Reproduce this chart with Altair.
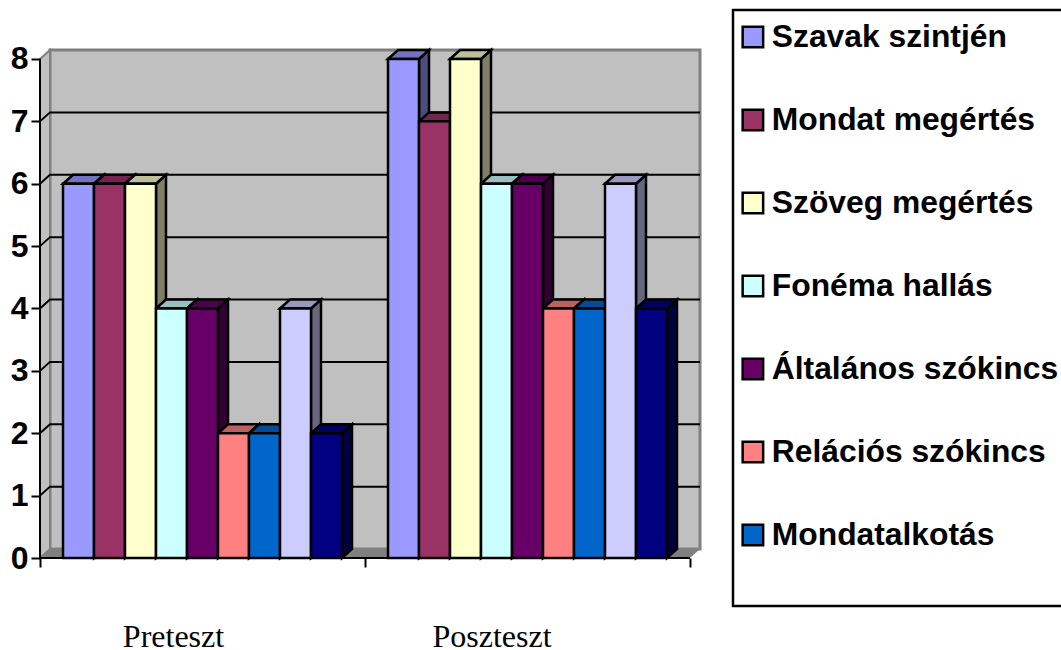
import altair as alt
import pandas as pd

# Survey results per test round
groups = ["Preteszt", "Poszteszt"]
series = ["Szavak szintjén", "Mondat megértés", "Szöveg megértés", "Fonéma hallás",
          "Általános szókincs", "Relációs szókincs", "Mondatalkotás", "Szövegalkotás", "Olvasás"]
pre_values = [6, 6, 6, 4, 4, 2, 2, 4, 2]
post_values = [8, 7, 8, 6, 6, 4, 4, 6, 4]
palette = ["#9999FF", "#993366", "#FFFFCC", "#CCFFFF", "#660066",
           "#FF8080", "#0066CC", "#CCCCFF", "#000080"]
legend_series = series[:7]
y_ticks = list(range(9))

# Pseudo-3D geometry, in x-scale units (px) and y-scale units (score)
GROUP_W = 325
GAP = 23
BAR_W = 31
DX = 10
DY = 9 / 62.4
X_MAX = 2 * GROUP_W + DX
Y_MAX = 8 + DY
PLOT_W, PLOT_H = X_MAX, 508

FONT = "Liberation Sans"
SERIF = "Liberation Serif"


def shade(hex_color, factor):
    r, g, b = (int(hex_color[i:i + 2], 16) for i in (1, 3, 5))
    return "#{:02X}{:02X}{:02X}".format(int(r * factor), int(g * factor), int(b * factor))


fronts, tops, sides = [], [], []
for g, (group, vals) in enumerate(zip(groups, [pre_values, post_values])):
    for i, (name, v, col) in enumerate(zip(series, vals, palette)):
        x0 = g * GROUP_W + GAP + i * BAR_W
        x1 = x0 + BAR_W
        key = f"{group}-{i}"
        fronts.append(dict(key=key, series=name, x0=x0, x1=x1, v=v))
        for x, hi, lo in [(x0, v, v), (x0 + DX, v + DY, v), (x1, v + DY, v), (x1 + DX, v + DY, v + DY)]:
            tops.append(dict(key=key, x=x, hi=hi, lo=lo, fill=shade(col, 0.75)))
        for x, hi, lo in [(x1, v, 0), (x1 + DX, v + DY, DY)]:
            sides.append(dict(key=key, x=x, hi=hi, lo=lo, fill=shade(col, 0.5)))

x_scale = alt.Scale(domain=[0, X_MAX], range=[0, PLOT_W], nice=False, zero=False)
y_scale = alt.Scale(domain=[0, Y_MAX], range=[PLOT_H, 0], nice=False, zero=False)
X = lambda f: alt.X(f, type="quantitative", scale=x_scale, title=None)
Y = lambda f: alt.Y(f, type="quantitative", scale=y_scale, title=None)

# The axes live on the back wall layer and are shared by every other layer
x_axis = alt.Axis(
    values=[0, GROUP_W, 2 * GROUP_W], labels=False, title=None, grid=False, domain=False,
    tickColor="black", tickWidth=2, tickSize=9, zindex=1)
y_axis = alt.Axis(
    values=y_ticks, format="d", title=None, grid=False, domain=False,
    tickColor="black", tickWidth=2, tickSize=9, labelPadding=3,
    labelFont=FONT, labelFontSize=32, labelFontWeight="bold", labelColor="black", zindex=1)

# Walls and floor
back_wall = alt.Chart(pd.DataFrame([dict(a=DX, b=X_MAX, lo=DY, hi=Y_MAX)])).mark_rect(
    fill="#C0C0C0", stroke="#808080", strokeWidth=3
).encode(
    x=alt.X("a", type="quantitative", scale=x_scale, title=None, axis=x_axis), x2="b",
    y=alt.Y("lo", type="quantitative", scale=y_scale, title=None, axis=y_axis), y2="hi")

side_wall = alt.Chart(pd.DataFrame([
    dict(x=0, hi=8, lo=0), dict(x=DX, hi=Y_MAX, lo=DY)
])).mark_area(fill="#C0C0C0", stroke="#808080", strokeWidth=2, opacity=1).encode(
    x=X("x"), y=Y("hi"), y2="lo")

floor = alt.Chart(pd.DataFrame([
    dict(x=0, hi=0, lo=0), dict(x=DX, hi=DY, lo=0),
    dict(x=2 * GROUP_W, hi=DY, lo=0), dict(x=X_MAX, hi=DY, lo=DY)
])).mark_area(fill="#808080", opacity=1).encode(x=X("x"), y=Y("hi"), y2="lo")

# Gridlines run along the back wall and step down the side wall
grid_rows = []
for v in y_ticks[1:-1]:
    grid_rows += [dict(v=v, x=0, y=v), dict(v=v, x=DX, y=v + DY), dict(v=v, x=X_MAX, y=v + DY)]
grid = alt.Chart(pd.DataFrame(grid_rows)).mark_line(color="black", strokeWidth=2).encode(
    x=X("x"), y=Y("y"), detail="v:N")

# Bars: sides first, then tops, then the front faces
side_faces = alt.Chart(pd.DataFrame(sides)).mark_area(stroke="black", strokeWidth=2.5, opacity=1).encode(
    x=X("x"), y=Y("hi"), y2="lo", detail="key:N",
    fill=alt.Fill("fill:N", scale=None))
top_faces = alt.Chart(pd.DataFrame(tops)).mark_area(stroke="black", strokeWidth=2.5, opacity=1).encode(
    x=X("x"), y=Y("hi"), y2="lo", detail="key:N",
    fill=alt.Fill("fill:N", scale=None))
front_faces = alt.Chart(pd.DataFrame(fronts)).mark_rect(stroke="black", strokeWidth=2.5).encode(
    x=X("x0"), x2="x1", y=Y("v"), y2=alt.datum(0),
    color=alt.Color("series:N", scale=alt.Scale(domain=series, range=palette), legend=alt.Legend(
        orient="none", legendX=697, legendY=-29, title=None, values=legend_series,
        symbolType="square", symbolSize=420, symbolStrokeColor="black", symbolStrokeWidth=2.5,
        labelFont=FONT, labelFontSize=31.8, labelFontWeight="bold", labelColor="black",
        labelLimit=500, rowPadding=50, labelOffset=3, padding=0)))

axis_lines = alt.Chart(pd.DataFrame([
    dict(a=0, b=0, lo=0, hi=8), dict(a=0, b=2 * GROUP_W, lo=0, hi=0)
])).mark_rule(color="black", strokeWidth=2).encode(x=X("a"), x2="b", y=Y("lo"), y2="hi")

# Group captions under the axis
captions = alt.Chart(pd.DataFrame(dict(label=groups, x=[133.5, 452]))).mark_text(
    font=SERIF, fontSize=32, color="black", baseline="alphabetic", align="center"
).encode(x=X("x"), y=alt.value(597), text="label:N")

# Frame around the legend, running off the right-hand edge
legend_box = alt.Chart(pd.DataFrame(dict(k=[0]))).mark_rect(
    fill="white", stroke="black", strokeWidth=2.5
).encode(x=alt.value(693), x2=alt.value(1040), y=alt.value(-40), y2=alt.value(556))

chart = alt.layer(
    back_wall, side_wall, floor, grid, legend_box,
    side_faces, top_faces, front_faces,
    axis_lines, captions
).resolve_scale(x="shared", y="shared").properties(
    width=PLOT_W, height=PLOT_H,
    padding={"left": 40, "top": 50, "right": 361, "bottom": 92},
    autosize=alt.AutoSizeParams(type="none"),
    background="white",
).configure_view(stroke=None)

chart.save("out.html", embed_options={"renderer": "svg", "actions": False})
